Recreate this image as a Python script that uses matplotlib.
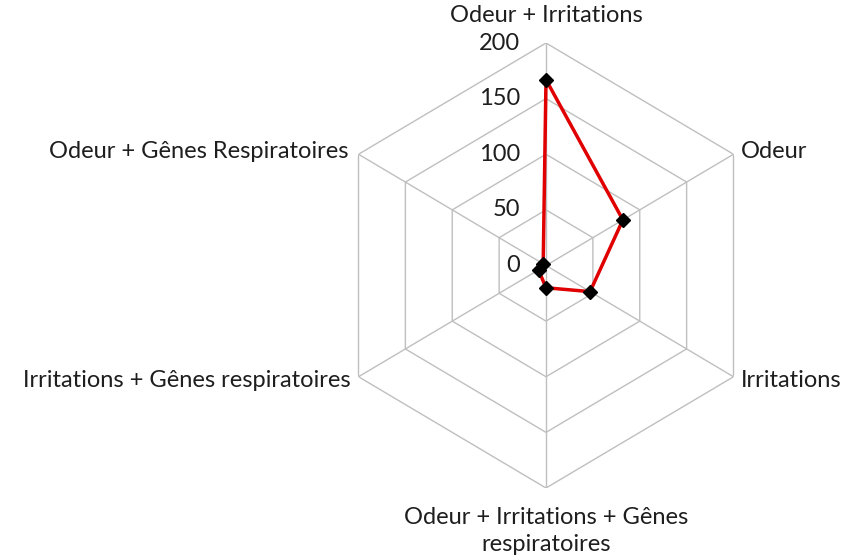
import numpy as np
import matplotlib.pyplot as plt

plt.rcParams['font.family'] = ['Lato', 'DejaVu Sans']

# categories clockwise from the top
categories = ['Odeur + Irritations', 'Odeur', 'Irritations',
              'Odeur + Irritations + Gênes\nrespiratoires',
              'Irritations + Gênes respiratoires',
              'Odeur + Gênes Respiratoires']
values = [167, 82, 47, 20, 8, 3]
levels = [0, 50, 100, 150, 200]

n = len(categories)
theta = np.linspace(0, 2*np.pi, n, endpoint=False)
theta_closed = np.append(theta, theta[0])

fig = plt.figure(figsize=(8.5, 5.6), dpi=100)
ax = fig.add_axes([329.5/850, 72/560, 433/850, 445/560], projection='polar')
ax.set_aspect('auto')
ax.set_theta_offset(np.pi/2)
ax.set_theta_direction(-1)
ax.set_ylim(0, 200)
ax.grid(False)
ax.spines['polar'].set_visible(False)
ax.set_xticks([])
ax.set_yticks([])

gridc = '#bfbfbf'
for lv in levels[1:]:
    ax.plot(theta_closed, [lv]*(n+1), color=gridc, lw=1, zorder=1)
for t in theta:
    ax.plot([t, t], [0, 200], color=gridc, lw=1, zorder=1)

txtc = '#1e1e1e'
# radial tick labels along the top axis
for lv in levels:
    ax.annotate(str(lv), (0, lv), xytext=(-26, 0), textcoords='offset pixels',
                ha='right', va='center', fontsize=17, color=txtc)

# category labels
offsets = [(0, 28, 'center'), (7, 3, 'left'), (7, -4, 'left'),
           (0, -43, 'center'), (-8, -4, 'right'), (-10, 3, 'right')]
for t, lab, (dx, dy, ha) in zip(theta, categories, offsets):
    ax.annotate(lab, (t, 200), xytext=(dx, dy), textcoords='offset pixels',
                ha=ha, va='center', fontsize=17, color=txtc,
                multialignment='center', linespacing=1.35,
                annotation_clip=False)

vals_closed = values + values[:1]
ax.plot(theta_closed, vals_closed, color='#e00000', lw=2.5, zorder=3)
ax.plot(theta, values, ls='none', marker='D', ms=7, color='black', zorder=4)

fig.savefig('out.png', dpi=100)
